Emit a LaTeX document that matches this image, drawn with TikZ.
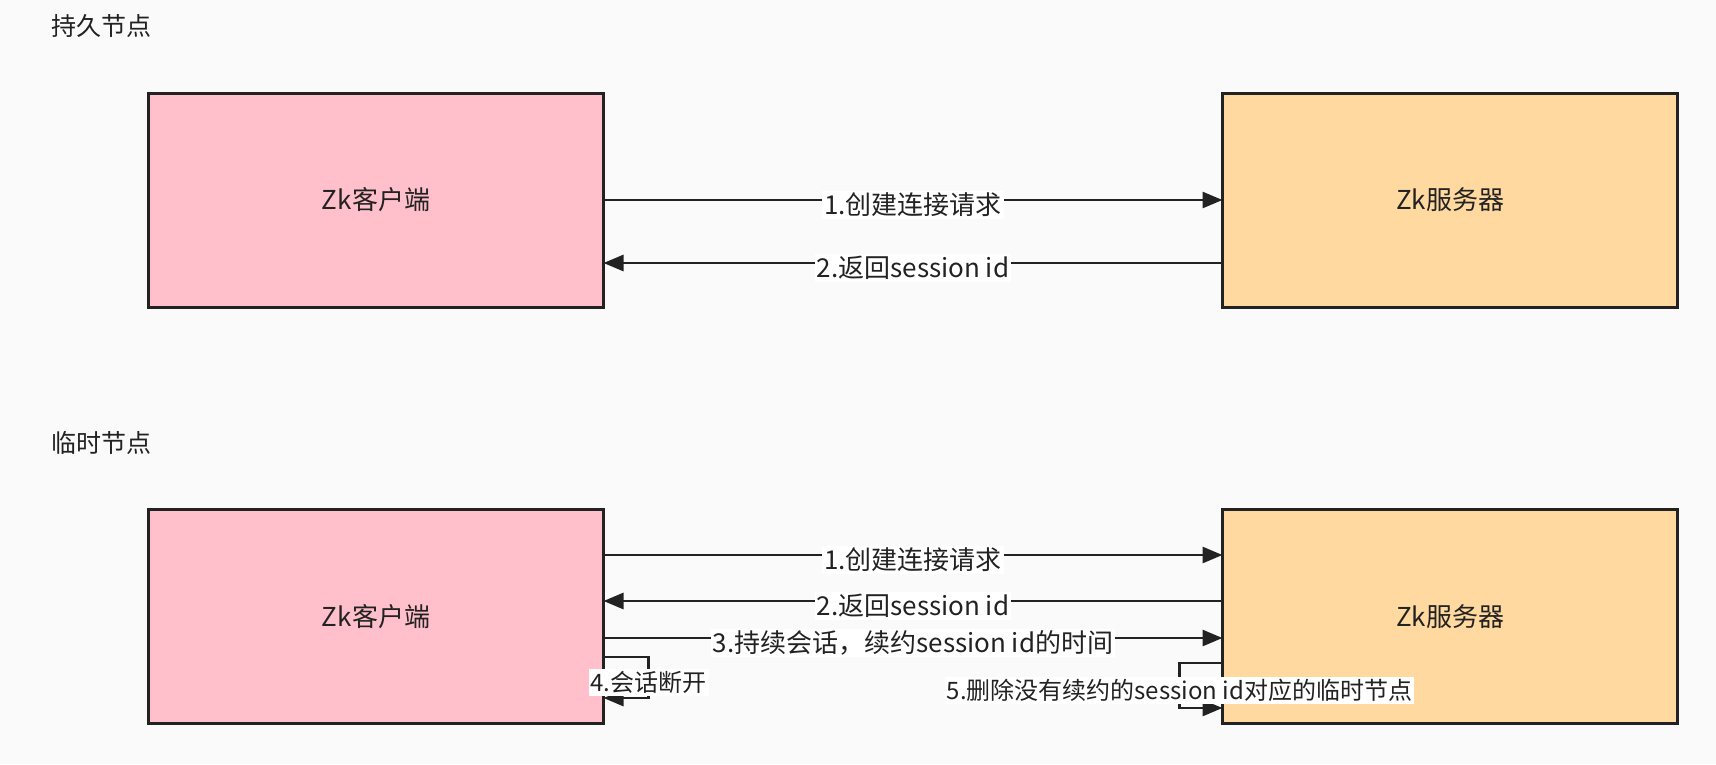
\documentclass[tikz,border=0pt]{standalone}
\usepackage{fontspec}
\setmainfont{Noto Sans CJK SC}
\usetikzlibrary{arrows.meta,calc}
\definecolor{bgcol}{HTML}{FAFAFA}
\definecolor{clientpink}{HTML}{FFC0CB}
\definecolor{serverorange}{HTML}{FFD9A0}
\definecolor{inkcol}{HTML}{222222}

\begin{document}
\begin{tikzpicture}[x=1pt,y=-1pt,
  box/.style = {shape=rectangle, draw=inkcol, line width=3pt,
    minimum width=455pt, minimum height=214pt, outer sep=0pt,
    font=\fontsize{26}{30}\selectfont, text=inkcol},
  title/.style = {anchor=west, inner sep=0pt,
    font=\fontsize{25}{30}\selectfont, text=inkcol},
  conn/.style = {draw=inkcol, line width=2.8pt,
    -{Triangle[length=20pt,width=16pt]}},
  lbl/.style = {fill=white, inner sep=2pt, text=inkcol, yshift=-5pt,
    font=\fontsize{26}{30}\selectfont},
  smalllbl/.style = {lbl, font=\fontsize{24}{28}\selectfont}]
  \fill[bgcol] (0,0) rectangle (1716,764);
  \useasboundingbox (0,0) rectangle (1716,764);
  \node[title] (persist) at (51,26) {持久节点};
  \node[title] (temp) at (51,443) {临时节点};
  \node[box, fill=clientpink] (cliA) at (376,200) {Zk客户端};
  \node[box, fill=serverorange] (srvA) at (1450,200) {Zk服务器};
  \node[box, fill=clientpink] (cliB) at (376,616.5) {Zk客户端};
  \node[box, fill=serverorange] (srvB) at (1450,616.5) {Zk服务器};
  \draw[conn] (cliA.east) -- node[lbl] {1.创建连接请求} (srvA.west);
  \draw[conn] ($(srvA.west)+(0,63)$) -- node[lbl] {2.返回session id}
    ($(cliA.east)+(0,63)$);
  \draw[conn] ($(cliB.east)+(0,-61.5)$) -- node[lbl] {1.创建连接请求}
    ($(srvB.west)+(0,-61.5)$);
  \draw[conn] ($(srvB.west)+(0,-15.5)$) -- node[lbl] {2.返回session id}
    ($(cliB.east)+(0,-15.5)$);
  \draw[conn] ($(cliB.east)+(0,21.5)$) -- node[lbl] {3.持续会话，续约session id的时间}
    ($(srvB.west)+(0,21.5)$);
  \draw[conn] ($(cliB.east)+(0,40.5)$) -- ++(45,0)
    -- node[smalllbl] {4.会话断开} ++(0,41) -- ($(cliB.east)+(0,81.5)$);
  \draw[conn] ($(srvB.west)+(0,46.5)$) -- ++(-43,0)
    -- node[smalllbl] {5.删除没有续约的session id对应的临时节点} ++(0,45)
    -- ($(srvB.west)+(0,91.5)$);
\end{tikzpicture}
\end{document}
